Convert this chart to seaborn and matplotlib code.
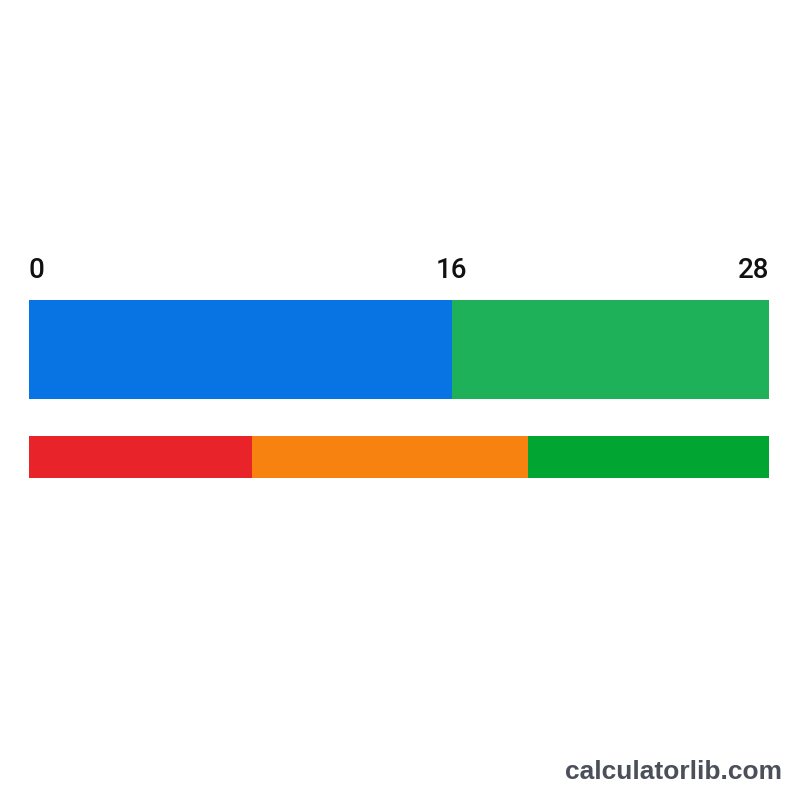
import numpy as np
import matplotlib.pyplot as plt
import seaborn as sns

# scale limits shown above the bars
tick_values = [0, 16, 28]

# top bar: segment edges and colours
top_edges = [0, 16, 28]
top_colors = ["#0873e3", "#1fb05a"]

# bottom bar: segment edges and colours
bottom_edges = [0, 8.45, 18.9, 28]
bottom_colors = ["#e8242a", "#f7820f", "#00a532"]

sns.set_theme(style="white")
plt.rcParams["font.family"] = ["Roboto", "DejaVu Sans"]

fig = plt.figure(figsize=(8, 8), dpi=100)
ax = fig.add_axes([29 / 800, 0, 740 / 800, 1])
ax.set_xlim(0, 28)
ax.set_ylim(800, 0)
ax.axis("off")

top_edges = np.array(top_edges)
ax.barh(349.5, np.diff(top_edges), left=top_edges[:-1], height=99,
        color=top_colors, linewidth=0)

bottom_edges = np.array(bottom_edges)
ax.barh(457, np.diff(bottom_edges), left=bottom_edges[:-1], height=42,
        color=bottom_colors, linewidth=0)

aligns = ["left", "center", "right"]
for v, ha in zip(tick_values, aligns):
    ax.text(v, 271, str(v), ha=ha, va="center", fontsize=20,
            fontweight="medium", color="#111111")

fig.text(0.977, 0.035, "calculatorlib.com", ha="right", va="center",
         fontsize=19, fontweight="bold", color="#4a4f5a",
         family=["Liberation Sans", "DejaVu Sans"])

fig.savefig("out.png", dpi=100, facecolor="white")
